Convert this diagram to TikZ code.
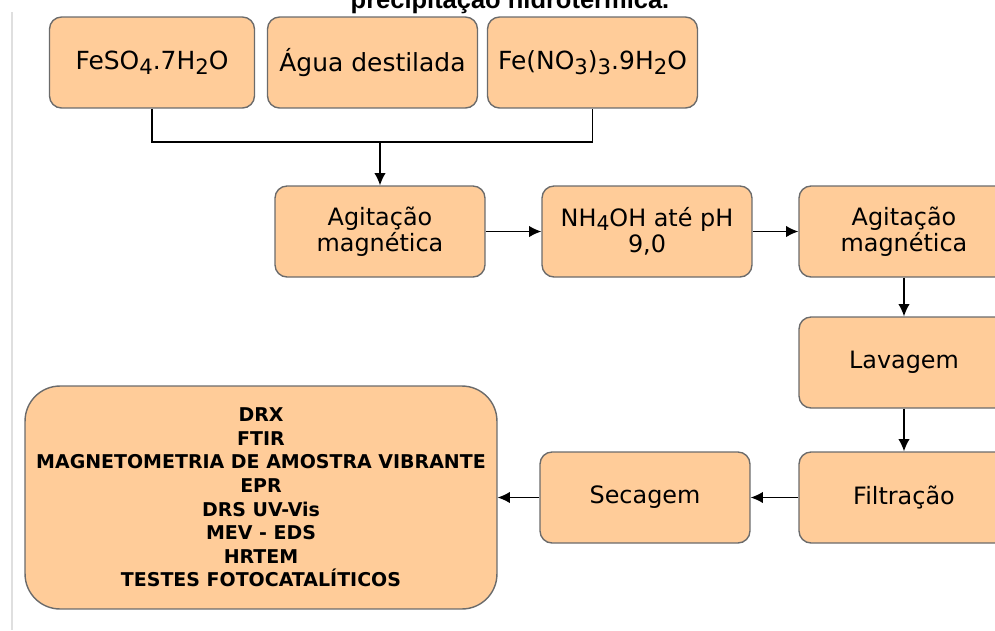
\documentclass[tikz,border=0pt]{standalone}
\usepackage{fontspec}
\usepackage{graphicx}
\setmainfont{DejaVu Sans}
\newfontfamily\titulofont{Liberation Sans}
\usetikzlibrary{arrows.meta}

\definecolor{pessego}{HTML}{FFCC99}
\definecolor{borda}{HTML}{6B6B6B}

% indice quase do tamanho do texto, como no original
\newcommand{\ind}[1]{\raisebox{-0.35ex}{\scalebox{0.85}{#1}}}

\tikzset{
  etapa/.style={draw=borda, fill=pessego, line width=0.8pt, rounded corners=0.24cm,
    minimum width=4.2cm, minimum height=1.82cm, align=center, inner sep=2pt,
    font=\fontsize{13.6}{15.1}\selectfont},
  reagente/.style={etapa, font=\fontsize{14.2}{16}\selectfont},
  analises/.style={etapa, rounded corners=0.7cm, minimum width=9.44cm,
    minimum height=4.46cm, font=\fontsize{10.8}{13.4}\selectfont\bfseries},
}

\begin{document}
\begin{tikzpicture}[x=0.02cm, y=-0.02cm, >={Latex[length=7pt,width=6.5pt]}, line width=0.7pt]

\useasboundingbox (0,0) rectangle (995,630);
\clip (0,0) rectangle (995,630);

% margem cinza
\draw [gray!25, line width=1.2pt] (12,12) -- (12,630);

\node [anchor=base, font=\titulofont\bfseries\fontsize{14.5}{16}\selectfont] (titulo) at (510,8) {precipitação hidrotérmica.};

% reagentes
\node [reagente, minimum width=4.1cm] (fe) at (152,62.5) {FeSO\ind{4}.7H\ind{2}O};
\node [reagente] (agua) at (372.5,62.5) {Água destilada};
\node [reagente] (nitrato) at (592.5,62.5) {Fe(NO\ind{3})\ind{3}.9H\ind{2}O};

% etapas
\node [etapa] (agit) at (380,231.5) {Agitação\\magnética};
\node [etapa] (nhoh) at (647,231.5) {NH\ind{4}OH até pH\\9,0};
\node [etapa] (agitdois) at (904,231.5) {Agitação\\magnética};
\node [etapa] (lav) at (904,362.5) {Lavagem};
\node [etapa] (filt) at (904,497.5) {Filtração};
\node [etapa] (sec) at (645,497.5) {Secagem};

\node [analises] (anal) at (261,497.5) {DRX\\FTIR\\MAGNETOMETRIA DE AMOSTRA VIBRANTE\\EPR\\DRS UV-Vis\\MEV - EDS\\HRTEM\\TESTES FOTOCATALÍTICOS};

\coordinate (juncao) at (380,142);

\draw (fe.south) |- (juncao) -| (nitrato.south);
\draw [->] (juncao) -- (agit.north);
\draw [->] (agit) -- (nhoh);
\draw [->] (nhoh) -- (agitdois);
\draw [->] (agitdois) -- (lav);
\draw [->] (lav) -- (filt);
\draw [->] (filt) -- (sec);
\draw [->] (sec) -- (anal);

\end{tikzpicture}
\end{document}
